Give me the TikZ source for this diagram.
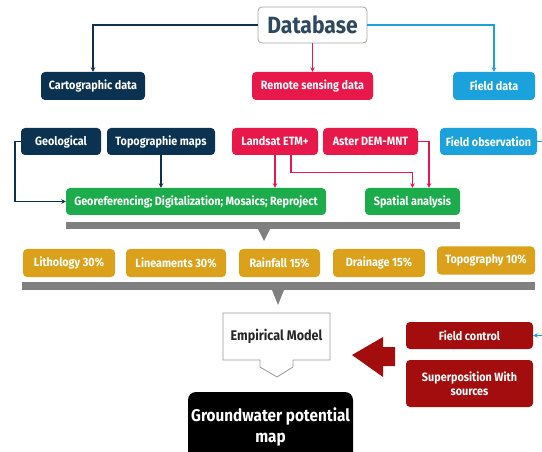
\documentclass[tikz,border=0pt]{standalone}
\usepackage{fontspec}
\setmainfont{Fira Sans}[FakeStretch=0.9]
\usetikzlibrary{arrows.meta,calc}
\definecolor{navy}{RGB}{12,50,82}
\definecolor{rsred}{RGB}{232,24,74}
\definecolor{fblue}{RGB}{27,161,220}
\definecolor{pgreen}{RGB}{28,172,76}
\definecolor{porange}{RGB}{220,161,27}
\definecolor{bargray}{RGB}{128,128,128}
\definecolor{dred}{RGB}{163,13,13}
\definecolor{dbtext}{RGB}{45,72,95}
\tikzset{
  box/.style={rounded corners=4pt, text=white, font=\fontsize{12}{14}\selectfont\bfseries, inner sep=0pt, align=center},
  conn/.style={line width=1.3pt, -{Stealth[length=4.5pt,width=4.5pt]}},
  plain/.style={line width=1.3pt}
}
\begin{document}
\begin{tikzpicture}[x=1pt,y=-1pt]
\useasboundingbox (0,0) rectangle (542,452);
% top
\node[box, fill=white, draw=black!35, line width=0.8pt, text=dbtext, font=\fontsize{23.5}{26}\selectfont\bfseries, minimum width=109pt, minimum height=36pt] (db) at (312.5,25) {Database};
\node[box, fill=navy, minimum width=104pt, minimum height=28pt] (cart) at (93,86) {Cartographic data};
\node[box, fill=rsred, minimum width=121pt, minimum height=28pt] (rs) at (312.5,86) {Remote sensing data};
\node[box, fill=fblue, minimum width=82pt, minimum height=28pt] (fd) at (494,86) {Field data};
\draw[conn, navy] (db.west) -| (cart.north);
\draw[conn, rsred] (db.south) -- (rs.north);
\draw[conn, fblue] (db.east) -| (fd.north);
% row 2
\node[box, fill=navy, minimum width=80pt, minimum height=27pt] (geo) at (61,141.5) {Geological};
\node[box, fill=navy, minimum width=108pt, minimum height=27pt] (topo) at (161,141.5) {Topographie maps};
\node[box, fill=rsred, minimum width=86pt, minimum height=27pt] (landsat) at (275,141.5) {Landsat ETM+};
\node[box, fill=rsred, minimum width=95pt, minimum height=27pt] (aster) at (370.5,141.5) {Aster DEM-MNT};
\node[box, fill=fblue, minimum width=97pt, minimum height=27pt] (fobs) at (488.5,141.5) {Field observation};
% row 3
\node[box, fill=pgreen, minimum width=260pt, minimum height=27pt] (georef) at (196,201.5) {Georeferencing; Digitalization; Mosaics; Reproject};
\node[box, fill=pgreen, minimum width=95pt, minimum height=27pt] (spatial) at (412.5,201.5) {Spatial analysis};
\draw[conn, navy] (geo.west) -- (15,141.5) |- (georef.west);
\draw[conn, navy] (topo.south) -- (topo.south |- georef.north);
\draw[conn, rsred] (landsat.south) -- (landsat.south |- georef.north);
\draw[conn, rsred] ([xshift=16pt]landsat.south) -- ++(0,17) -| (spatial.north);
\draw[conn, rsred] (aster.east) -| ([xshift=16.5pt]spatial.north);
% bar 1
\fill[bargray] (66,222) rectangle (460,229);
\fill[bargray] (258,229) -- (270,229) -- (264,241) -- cycle;
% row 4
\node[box, fill=porange, minimum width=92pt, minimum height=28pt] (lith) at (69,263) {Lithology 30\%};
\node[box, fill=porange, minimum width=100pt, minimum height=28pt] (lin) at (176,263) {Lineaments 30\%};
\node[box, fill=porange, minimum width=81pt, minimum height=28pt] (rain) at (279.5,263) {Rainfall 15\%};
\node[box, fill=porange, minimum width=92pt, minimum height=28pt] (drain) at (379,263) {Drainage 15\%};
\node[box, fill=porange, minimum width=98pt, minimum height=28pt] (topog) at (486,260.5) {Topography 10\%};
% bar 2
\fill[bargray] (22,282) rectangle (535,290);
\fill[bargray] (272,290) -- (284,290) -- (278,305) -- cycle;
% empirical model
\draw[black!40, line width=0.8pt, fill=white] (223,313) -- (330,313) -- (330,360) -- (293,360) -- (293,367) -- (277,377) -- (260,367) -- (260,360) -- (223,360) -- cycle;
\node[font=\fontsize{14}{16}\selectfont\bfseries, text=black!85, inner sep=0pt] (emp) at (276.5,336.5) {Empirical Model};
% groundwater
\node[box, fill=black, rounded corners=8pt, font=\fontsize{17}{21}\selectfont\bfseries, minimum width=165pt, minimum height=70pt] (gw) at (270.5,427) {Groundwater potential\\map};
% big arrow
\fill[dred] (352,355) -- (383,337) -- (383,347) -- (395,347) -- (395,366) -- (383,366) -- (383,377) -- cycle;
% right boxes
\node[box, fill=dred, minimum width=127pt, minimum height=27pt] (fctrl) at (469.5,335.5) {Field control};
\node[box, fill=dred, minimum width=127pt, minimum height=47pt] (sup) at (469.5,383.5) {Superposition With\\sources};
\draw[conn, fblue] (fobs.east) -- (546,141.5) |- (fctrl.east);
\end{tikzpicture}
\end{document}
